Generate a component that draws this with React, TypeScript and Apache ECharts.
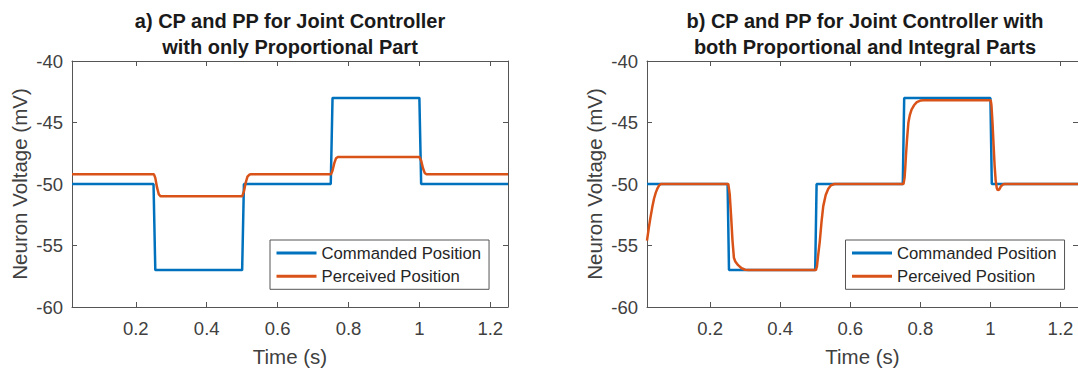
import React, { useEffect, useRef } from "react";
import * as echarts from "echarts";

// ---- data ----
const X_MIN = 0.02;
const X_MAX = 1.25;
const X_TICKS = [0.2, 0.4, 0.6, 0.8, 1, 1.2];
const Y_MIN = -60;
const Y_MAX = -40;
const Y_STEP = 5;

const SERIES_NAMES = ["Commanded Position", "Perceived Position"];
const TITLE_A = "a) CP and PP for Joint Controller\nwith only Proportional Part";
const TITLE_B = "b) CP and PP for Joint Controller with\nboth Proportional and Integral Parts";
const X_NAME = "Time (s)";
const Y_NAME = "Neuron Voltage (mV)";

// panel a
const cpA: number[][] = [
  [0.02, -50], [0.25, -50], [0.255, -57], [0.5, -57], [0.505, -50],
  [0.75, -50], [0.755, -43], [1.0, -43], [1.005, -50], [1.25, -50],
];
const ppA: number[][] = [
  [0.02, -49.2], [0.251, -49.2], [0.255, -49.5], [0.26, -50.3], [0.265, -50.85], [0.27, -51.0],
  [0.5, -51.0], [0.505, -50.6], [0.51, -49.9], [0.515, -49.4], [0.52, -49.25], [0.525, -49.2],
  [0.751, -49.2], [0.755, -48.9], [0.76, -48.3], [0.765, -47.9], [0.77, -47.8],
  [1.0, -47.8], [1.005, -48.1], [1.01, -48.7], [1.015, -49.1], [1.02, -49.2], [1.25, -49.2],
];

// panel b
const cpB: number[][] = [
  [0.02, -50], [0.25, -50], [0.254, -57], [0.5, -57], [0.504, -50],
  [0.75, -50], [0.754, -43], [1.0, -43], [1.004, -50], [1.25, -50],
];
const ppB: number[][] = [
  [0.02, -54.6], [0.025, -53.6], [0.03, -52.7], [0.035, -51.9], [0.04, -51.2], [0.045, -50.7],
  [0.05, -50.35], [0.055, -50.1], [0.06, -50.0],
  [0.252, -50.0], [0.256, -50.8], [0.26, -52.6], [0.264, -54.6], [0.268, -56.0], [0.272, -56.3],
  [0.28, -56.6], [0.29, -56.85], [0.3, -56.97], [0.31, -57.0],
  [0.502, -57.0], [0.505, -56.7], [0.508, -55.9], [0.513, -54.7], [0.518, -53.1], [0.523, -51.8],
  [0.53, -50.9], [0.537, -50.4], [0.545, -50.1], [0.555, -50.0],
  [0.752, -50.0], [0.755, -49.5], [0.757, -48.7], [0.759, -47.7], [0.762, -46.4], [0.766, -45.0],
  [0.77, -44.4], [0.775, -43.95], [0.782, -43.6], [0.79, -43.35], [0.8, -43.22], [0.81, -43.2],
  [1.001, -43.2], [1.003, -43.6], [1.006, -45.0], [1.009, -46.8], [1.012, -48.5], [1.015, -49.7],
  [1.018, -50.3], [1.021, -50.5], [1.025, -50.45], [1.03, -50.2], [1.035, -50.05], [1.04, -50.0],
  [1.25, -50.0],
];

const BLUE = "#0072BD";
const ORANGE = "#D95319";
const AXIS = "#555555";
const TEXT = "#404040";
const FONT = "'Liberation Sans', Arial, Helvetica, sans-serif";

export default function App() {
  const ref = useRef<HTMLDivElement>(null);

  useEffect(() => {
    if (!ref.current) return;
    const chart = echarts.init(ref.current, undefined, { renderer: "svg" });

    const grids = [
      { left: 72, top: 61, width: 436, height: 248 },
      { left: 647, top: 61, width: 437, height: 248 },
    ];

    const xAxes: any[] = [];
    const yAxes: any[] = [];
    grids.forEach((_, gi) => {
      xAxes.push({
        type: "value", gridIndex: gi, position: "bottom", min: X_MIN, max: X_MAX,
        axisLine: { show: true, onZero: false, lineStyle: { color: AXIS, width: 1 } },
        axisTick: { show: true, inside: true, length: 5, customValues: X_TICKS, lineStyle: { color: AXIS } },
        axisLabel: { show: true, customValues: X_TICKS, margin: 12, color: TEXT, fontSize: 18.5, fontFamily: FONT },
        splitLine: { show: false },
        name: X_NAME, nameLocation: "middle", nameGap: 39,
        nameTextStyle: { color: TEXT, fontSize: 20.5, fontFamily: FONT },
      });
      xAxes.push({
        type: "value", gridIndex: gi, position: "top", min: X_MIN, max: X_MAX,
        axisLine: { show: true, onZero: false, lineStyle: { color: AXIS, width: 1 } },
        axisTick: { show: true, inside: true, length: 5, customValues: X_TICKS, lineStyle: { color: AXIS } },
        axisLabel: { show: false },
        splitLine: { show: false },
      });
      yAxes.push({
        type: "value", gridIndex: gi, position: "left", min: Y_MIN, max: Y_MAX, interval: Y_STEP,
        axisLine: { show: true, onZero: false, lineStyle: { color: AXIS, width: 1 } },
        axisTick: { show: true, inside: true, length: 5, lineStyle: { color: AXIS } },
        axisLabel: { show: true, margin: 9, color: TEXT, fontSize: 18.5, fontFamily: FONT },
        splitLine: { show: false },
        name: Y_NAME, nameLocation: "middle", nameGap: 42,
        nameTextStyle: { color: TEXT, fontSize: 20.5, fontFamily: FONT },
      });
      yAxes.push({
        type: "value", gridIndex: gi, position: "right", min: Y_MIN, max: Y_MAX, interval: Y_STEP,
        axisLine: { show: true, onZero: false, lineStyle: { color: AXIS, width: 1 } },
        axisTick: { show: true, inside: true, length: 5, lineStyle: { color: AXIS } },
        axisLabel: { show: false },
        splitLine: { show: false },
      });
    });

    const mkSeries = (name: string, data: number[][], color: string, gi: number) => ({
      type: "line", name, data, xAxisIndex: gi * 2, yAxisIndex: gi * 2,
      symbol: "none", showSymbol: false, clip: true,
      lineStyle: { color, width: 2.5 }, itemStyle: { color },
    });

    const legendBase = {
      orient: "vertical", data: SERIES_NAMES, itemWidth: 40, itemHeight: 3, itemGap: 3.3,
      icon: "rect",
      padding: [3, 8, 3, 6.5], borderColor: AXIS, borderWidth: 1, backgroundColor: "#fff",
      textStyle: { color: "#262626", fontSize: 16.7, fontFamily: FONT, lineHeight: 20 },
      selectedMode: false,
    };

    chart.setOption({
      animation: false,
      backgroundColor: "#fff",
      title: [
        {
          text: TITLE_A, left: 290, top: 8, textAlign: "center", padding: 0,
          textStyle: { color: "#1a1a1a", fontSize: 20, fontWeight: "bold", fontFamily: FONT, lineHeight: 26 },
        },
        {
          text: TITLE_B, left: 865, top: 8, textAlign: "center", padding: 0,
          textStyle: { color: "#1a1a1a", fontSize: 20, fontWeight: "bold", fontFamily: FONT, lineHeight: 26 },
        },
      ],
      grid: grids,
      xAxis: xAxes,
      yAxis: yAxes,
      legend: [
        { ...legendBase, left: 270, top: 240 },
        { ...legendBase, left: 845.5, top: 240 },
      ],
      series: [
        mkSeries(SERIES_NAMES[0], cpA, BLUE, 0),
        mkSeries(SERIES_NAMES[1], ppA, ORANGE, 0),
        mkSeries(SERIES_NAMES[0], cpB, BLUE, 1),
        mkSeries(SERIES_NAMES[1], ppB, ORANGE, 1),
      ],
    });

    return () => chart.dispose();
  }, []);

  return (
    <div
      ref={ref}
      style={{ position: "absolute", left: 0, top: 0, width: 1078, height: 372, background: "#fff" }}
    />
  );
}
